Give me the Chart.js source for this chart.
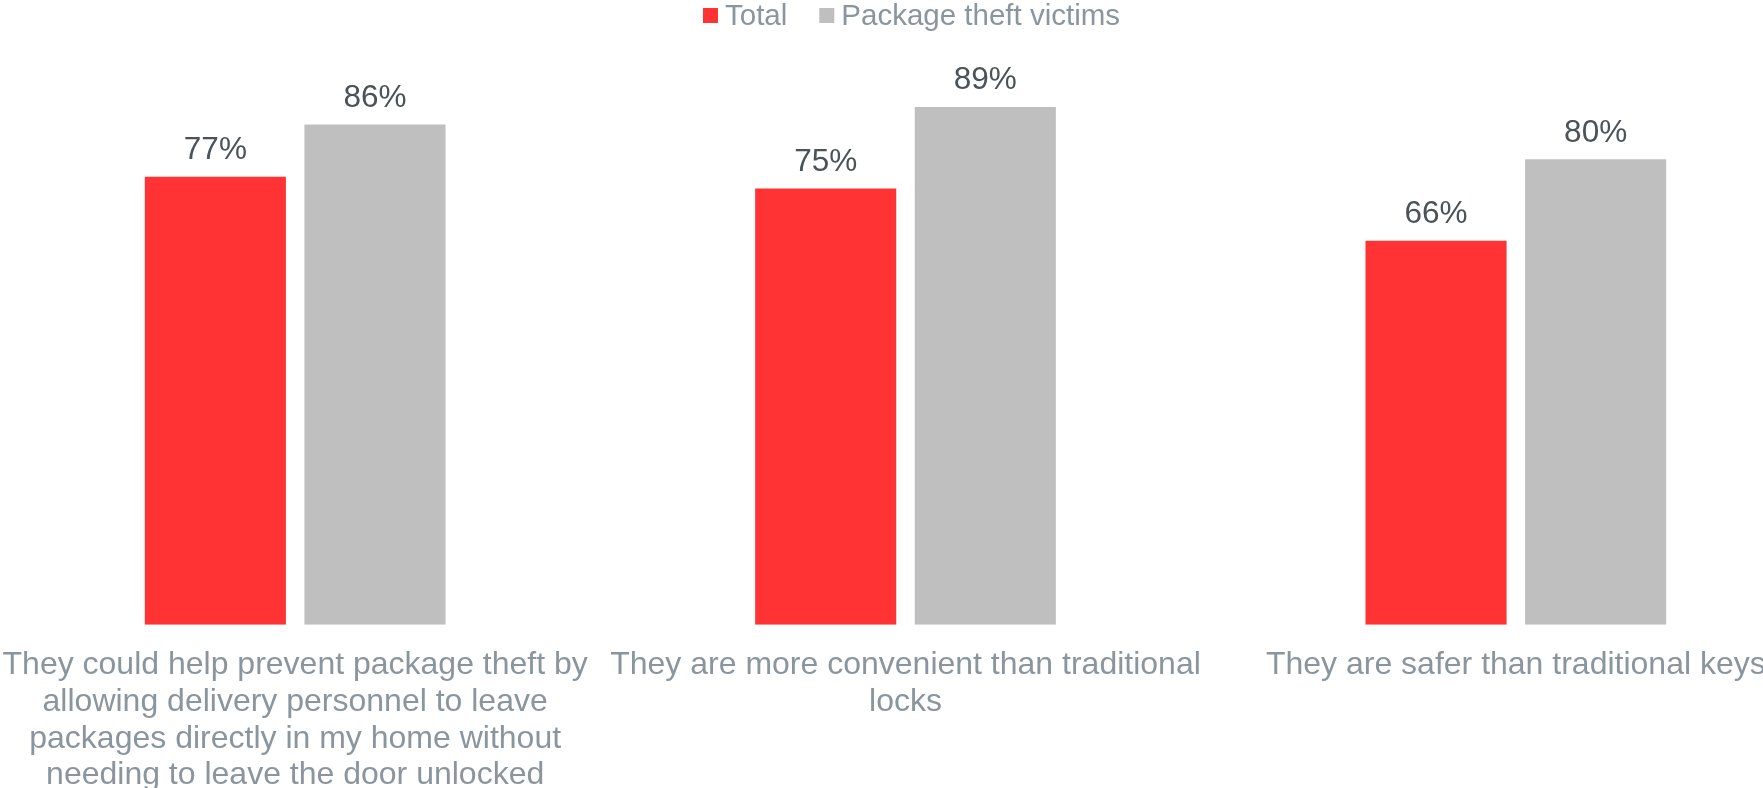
<!DOCTYPE html>
<html>
<head>
<meta charset="utf-8">
<script src="https://cdn.jsdelivr.net/npm/chart.js@4/dist/chart.umd.min.js"></script>
<style>
  html,body{margin:0;padding:0;background:#fff;overflow:hidden;width:1763px;height:788px;}
  #wrap{position:absolute;left:-10px;top:0;width:1831px;height:799px;}
</style>
</head>
<body>
<div id="wrap"><canvas id="c"></canvas></div>
<script>
// ── Data ──────────────────────────────────────────────────────────────────────
const categories = [
  ['They could help prevent package theft by','allowing delivery personnel to leave','packages directly in my home without','needing to leave the door unlocked'],
  ['They are more convenient than traditional','locks'],
  ['They are safer than traditional keys']
];
const totalVals  = [77, 75, 66];
const victimVals = [86, 89, 80];
const seriesNames = ['Total', 'Package theft victims'];

const FONT = '"Liberation Sans", Arial, Helvetica, sans-serif';
const RED = '#ff3334', GREY = '#bfbfbf';
const TXT_LIGHT = '#8a959d', TXT_DARK = '#4b5358';

// ── Value labels above bars ───────────────────────────────────────────────────
const valueLabels = {
  id:'valueLabels',
  afterDatasetsDraw(chart){
    const ctx=chart.ctx;
    ctx.save();
    ctx.font='31.5px '+FONT; ctx.fillStyle=TXT_DARK;
    ctx.textAlign='center'; ctx.textBaseline='alphabetic';
    chart.data.datasets.forEach((ds,di)=>{
      chart.getDatasetMeta(di).data.forEach((bar,i)=>{
        ctx.fillText(ds.data[i]+'%', bar.x, bar.y-17.5);
      });
    });
    ctx.restore();
  }
};

// ── Legend row (small square, tight gap to text) ──────────────────────────────
const topLegend = {
  id:'topLegend',
  afterDraw(chart){
    const ctx=chart.ctx, box=15, gap=7, itemGap=32;
    ctx.save();
    ctx.font='29.5px '+FONT; ctx.textBaseline='alphabetic'; ctx.textAlign='left';
    const items=chart.data.datasets.map(ds=>({text:ds.label,color:ds.backgroundColor,w:ctx.measureText(ds.label).width}));
    let total=items.reduce((s,it)=>s+box+gap+it.w,0)+itemGap*(items.length-1);
    let x=chart.width/2+6-total/2;
    items.forEach(it=>{
      ctx.fillStyle=it.color; ctx.fillRect(x,8,box,box);
      ctx.fillStyle=TXT_LIGHT; ctx.fillText(it.text,x+box+gap,25);
      x+=box+gap+it.w+itemGap;
    });
    ctx.restore();
  }
};

new Chart(document.getElementById('c').getContext('2d'),{
  type:'bar',
  data:{
    labels:categories,
    datasets:[
      {label:seriesNames[0],data:totalVals,backgroundColor:RED,categoryPercentage:0.523,barPercentage:0.884},
      {label:seriesNames[1],data:victimVals,backgroundColor:GREY,categoryPercentage:0.523,barPercentage:0.884}
    ]
  },
  options:{
    responsive:true, maintainAspectRatio:false, animation:false,
    layout:{padding:{top:43,bottom:5.1,left:0,right:0}},
    plugins:{legend:{display:false},tooltip:{enabled:false}},
    scales:{
      x:{
        // hidden tick marks still reserve tickLength, used here as the label gap
        grid:{display:false,drawTicks:true,tickLength:22}, border:{display:false},
        ticks:{color:TXT_LIGHT,font:{family:FONT,size:32,lineHeight:1.15},padding:0,autoSkip:false,maxRotation:0,minRotation:0}
      },
      y:{display:false,min:0,max:100}
    }
  },
  plugins:[valueLabels,topLegend]
});
</script>
</body>
</html>
